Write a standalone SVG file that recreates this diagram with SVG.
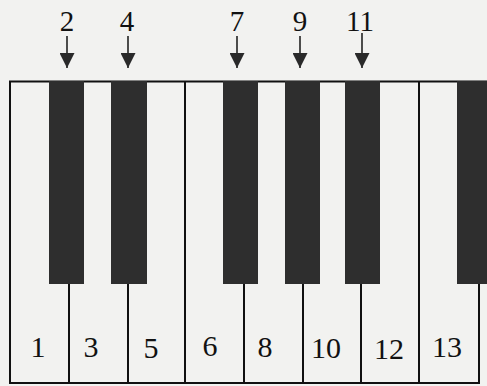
<svg xmlns="http://www.w3.org/2000/svg" width="487" height="386" viewBox="0 0 487 386">
  <defs>
    <marker id="head" markerUnits="userSpaceOnUse" markerWidth="15" markerHeight="15" refX="15" refY="7.5" orient="auto">
      <path d="M0,0 L15,7.5 L0,15 z" fill="#2a2a2a"/>
    </marker>
    <style>
      .frame { fill: none; stroke: #111; stroke-width: 2; }
      .div { stroke: #111; stroke-width: 2; }
      .black { fill: #2e2e2e; }
      .lbl { font-family: "Liberation Serif", "Times New Roman", serif; font-size: 30px; fill: #111; text-anchor: middle; }
      .top { font-size: 29px; }
      .arrow { stroke: #222; stroke-width: 1.6; fill: none; marker-end: url(#head); }
    </style>
  </defs>
  <rect x="0" y="0" width="487" height="386" fill="#f2f2f0"/>

  <g id="keyboard">
    <path class="frame" d="M487,81.5 L10,81.5 L10,383 L479,383 L479,284"/>
    <line class="div" x1="185" y1="81" x2="185" y2="383"/>
    <line class="div" x1="419" y1="81" x2="419" y2="383"/>
    <line class="div" x1="69" y1="284" x2="69" y2="383"/>
    <line class="div" x1="128" y1="284" x2="128" y2="383"/>
    <line class="div" x1="244" y1="284" x2="244" y2="383"/>
    <line class="div" x1="303" y1="284" x2="303" y2="383"/>
    <line class="div" x1="361" y1="284" x2="361" y2="383"/>
  </g>

  <g id="black-2"><rect class="black" x="49" y="81" width="35" height="203"/></g>
  <g id="black-4"><rect class="black" x="111" y="81" width="36" height="203"/></g>
  <g id="black-7"><rect class="black" x="223" y="81" width="35" height="203"/></g>
  <g id="black-9"><rect class="black" x="285" y="81" width="35" height="203"/></g>
  <g id="black-11"><rect class="black" x="345" y="81" width="35" height="203"/></g>
  <g id="black-14"><rect class="black" x="457" y="81" width="31" height="203"/></g>

  <g id="white-labels">
    <text class="lbl" x="38" y="357">1</text>
    <text class="lbl" x="91" y="357">3</text>
    <text class="lbl" x="151" y="358">5</text>
    <text class="lbl" x="210" y="356">6</text>
    <text class="lbl" x="265" y="357">8</text>
    <text class="lbl" x="326" y="358">10</text>
    <text class="lbl" x="389" y="359">12</text>
    <text class="lbl" x="447" y="357">13</text>
  </g>

  <g id="top-labels">
    <text class="lbl top" x="67" y="31">2</text>
    <text class="lbl top" x="127" y="31">4</text>
    <text class="lbl top" x="237" y="31">7</text>
    <text class="lbl top" x="300" y="31">9</text>
    <text class="lbl top" x="360" y="31">11</text>
  </g>

  <g id="connectors">
    <line class="arrow" x1="67" y1="36" x2="67" y2="68"/>
    <line class="arrow" x1="128" y1="36" x2="128" y2="68"/>
    <line class="arrow" x1="237" y1="36" x2="237" y2="68"/>
    <line class="arrow" x1="300" y1="36" x2="300" y2="68"/>
    <line class="arrow" x1="362" y1="33" x2="362" y2="68"/>
  </g>
</svg>
